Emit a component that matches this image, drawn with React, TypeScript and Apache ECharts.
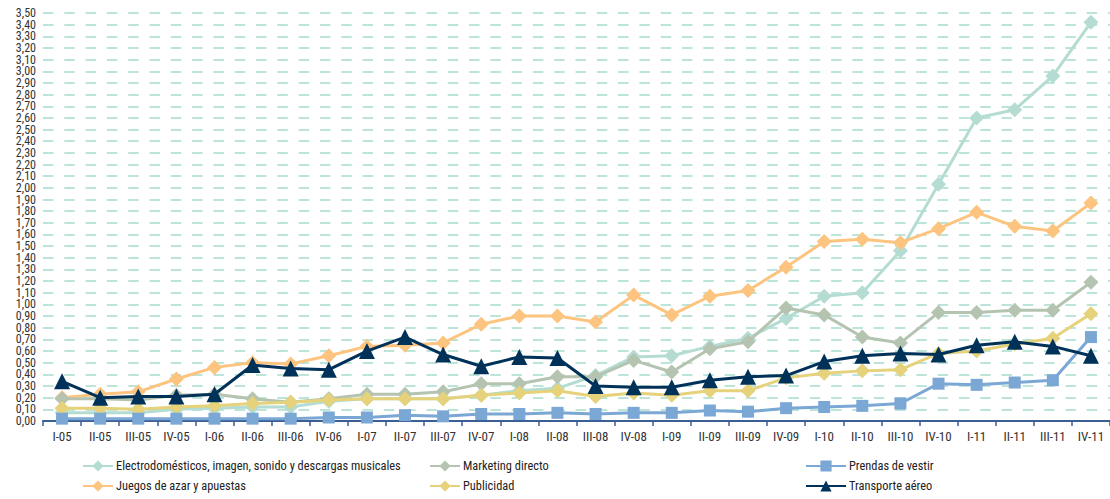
import React, { useEffect, useRef } from "react";
import * as echarts from "echarts";

const categories = [
  "I-05", "II-05", "III-05", "IV-05", "I-06", "II-06", "III-06", "IV-06",
  "I-07", "II-07", "III-07", "IV-07", "I-08", "II-08", "III-08", "IV-08",
  "I-09", "II-09", "III-09", "IV-09", "I-10", "II-10", "III-10", "IV-10",
  "I-11", "II-11", "III-11", "IV-11",
];

const electrodomesticos = [
  0.07, 0.07, 0.07, 0.1, 0.11, 0.12, 0.12, 0.17,
  0.19, 0.19, 0.19, 0.22, 0.26, 0.28, 0.39, 0.55,
  0.56, 0.64, 0.71, 0.88, 1.07, 1.1, 1.46, 2.03,
  2.6, 2.67, 2.96, 3.42,
];
const juegos = [
  0.2, 0.23, 0.25, 0.36, 0.46, 0.5, 0.49, 0.56,
  0.64, 0.65, 0.67, 0.83, 0.9, 0.9, 0.85, 1.08,
  0.91, 1.07, 1.12, 1.32, 1.54, 1.56, 1.53, 1.65,
  1.79, 1.67, 1.63, 1.87,
];
const marketing = [
  0.19, 0.19, 0.18, 0.22, 0.23, 0.19, 0.16, 0.19,
  0.23, 0.23, 0.25, 0.32, 0.32, 0.38, 0.38, 0.52,
  0.42, 0.62, 0.68, 0.97, 0.91, 0.72, 0.67, 0.93,
  0.93, 0.95, 0.95, 1.19,
];
const publicidad = [
  0.11, 0.11, 0.1, 0.12, 0.13, 0.15, 0.16, 0.18,
  0.19, 0.19, 0.19, 0.22, 0.24, 0.26, 0.21, 0.24,
  0.22, 0.26, 0.26, 0.37, 0.41, 0.43, 0.44, 0.58,
  0.6, 0.66, 0.71, 0.92,
];
const prendas = [
  0.02, 0.02, 0.02, 0.02, 0.02, 0.02, 0.02, 0.03,
  0.03, 0.05, 0.04, 0.06, 0.06, 0.07, 0.06, 0.07,
  0.07, 0.09, 0.08, 0.11, 0.12, 0.13, 0.15, 0.32,
  0.31, 0.33, 0.35, 0.72,
];
const transporte = [
  0.34, 0.2, 0.21, 0.21, 0.23, 0.48, 0.45, 0.44,
  0.6, 0.72, 0.57, 0.47, 0.55, 0.54, 0.3, 0.29,
  0.29, 0.35, 0.38, 0.39, 0.51, 0.56, 0.58, 0.57,
  0.65, 0.68, 0.64, 0.56,
];

const seriesNames = [
  "Electrodomésticos, imagen, sonido y descargas musicales",
  "Juegos de azar y apuestas",
  "Marketing directo",
  "Publicidad",
  "Prendas de vestir",
  "Transporte aéreo",
];

const Y_MIN = 0;
const Y_MAX = 3.5;
const Y_STEP = 0.1;

function pickFont(): { family: string; width: number } {
  const candidates = [
    "Liberation Sans Narrow",
    "Arial Narrow",
    "DejaVu Sans Condensed",
    "Roboto Condensed",
    "Liberation Sans",
    "Roboto",
  ];
  const ctx = document.createElement("canvas").getContext("2d");
  const s = seriesNames[0];
  if (!ctx) return { family: "Liberation Sans", width: 330 };
  let best = { family: "Liberation Sans", width: 9999 };
  for (const name of candidates) {
    ctx.font = "14px monospace";
    const m1 = ctx.measureText(s).width;
    ctx.font = `14px "${name}", monospace`;
    const w1 = ctx.measureText(s).width;
    ctx.font = "14px serif";
    const m2 = ctx.measureText(s).width;
    ctx.font = `14px "${name}", serif`;
    const w2 = ctx.measureText(s).width;
    const available = Math.abs(m1 - w1) > 0.5 || Math.abs(m2 - w2) > 0.5;
    if (available && w1 < best.width) best = { family: name, width: w1 };
  }
  return best;
}

export default function App() {
  const ref = useRef<HTMLDivElement>(null);

  useEffect(() => {
    if (!ref.current) return;
    const picked = pickFont();
    const FONT = `'${picked.family}', sans-serif`;
    const legendSize = Math.max(11, Math.min(14, (14 * 285) / picked.width));
    const axisSize = picked.width < 300 ? 13 : 12;

    const chart = echarts.init(ref.current, undefined, { renderer: "svg" });

    const defs = [
      { data: electrodomesticos, color: "#b4dcd3", symbol: "diamond", size: 15 },
      { data: juegos, color: "#fcc47f", symbol: "diamond", size: 15 },
      { data: marketing, color: "#b5c3b1", symbol: "diamond", size: 15 },
      { data: publicidad, color: "#e5d27a", symbol: "diamond", size: 15 },
      { data: prendas, color: "#7ba7d5", symbol: "rect", size: 12 },
      { data: transporte, color: "#003259", symbol: "triangle", size: 16 },
    ];

    const series = defs.map((d, i) => ({
      name: seriesNames[i],
      type: "line",
      yAxisIndex: 0,
      data: d.data,
      symbol: d.symbol,
      symbolSize: d.size,
      showAllSymbol: true,
      itemStyle: { color: d.color },
      lineStyle: { color: d.color, width: 3 },
      z: 2 + i,
    }));

    const legendPos = [
      { left: 82, top: 460, w: 30 },
      { left: 82, top: 480, w: 30 },
      { left: 429, top: 460, w: 30 },
      { left: 429, top: 480, w: 30 },
      { left: 805, top: 460, w: 40 },
      { left: 805, top: 480, w: 40 },
    ];

    const legends = legendPos.map((p, i) => ({
      left: p.left,
      top: p.top,
      padding: 0,
      itemWidth: p.w,
      itemHeight: 14,
      data: [seriesNames[i]],
      selectedMode: false,
      textStyle: { fontFamily: FONT, fontSize: legendSize, color: "#222", padding: [0, 0, 0, -2] },
    }));

    const fmt = (v: number) => v.toFixed(2).replace(".", ",");
    const labelStyle = {
      fontFamily: FONT,
      fontSize: axisSize,
      color: "#333",
      margin: 7,
      hideOverlap: false,
      formatter: fmt,
    };

    chart.setOption({
      animation: false,
      backgroundColor: "#ffffff",
      grid: { left: 43, width: 1077, top: 13, bottom: 78, containLabel: false },
      xAxis: {
        type: "category",
        data: categories,
        boundaryGap: true,
        axisLine: { lineStyle: { color: "#3b5e94", width: 2 } },
        axisTick: { show: true, length: 5, lineStyle: { color: "#3b5e94", width: 1.5 } },
        axisLabel: {
          interval: 0,
          fontFamily: FONT,
          fontSize: axisSize + 1,
          color: "#333",
          margin: 9,
        },
      },
      yAxis: [
        {
          type: "value",
          position: "left",
          min: Y_MIN,
          max: Y_MAX,
          interval: Y_STEP,
          axisLine: { show: false },
          axisTick: { show: false },
          axisLabel: { ...labelStyle, showMinLabel: false, showMaxLabel: false },
          splitLine: {
            show: true,
            lineStyle: { color: "#a8dccd", width: 1.5, type: [10.5, 10.8] },
          },
        },
        {
          type: "value",
          position: "left",
          offset: 0,
          min: Y_MIN,
          max: Y_MAX,
          interval: Y_MAX - Y_MIN,
          axisLine: { show: false },
          axisTick: { show: false },
          splitLine: { show: false },
          axisLabel: { ...labelStyle, showMinLabel: true, showMaxLabel: true },
        },
      ],
      legend: legends,
      series,
    });

    return () => chart.dispose();
  }, []);

  return (
    <div
      ref={ref}
      style={{ position: "fixed", left: 0, top: 0, width: 1110, height: 499 }}
    />
  );
}
